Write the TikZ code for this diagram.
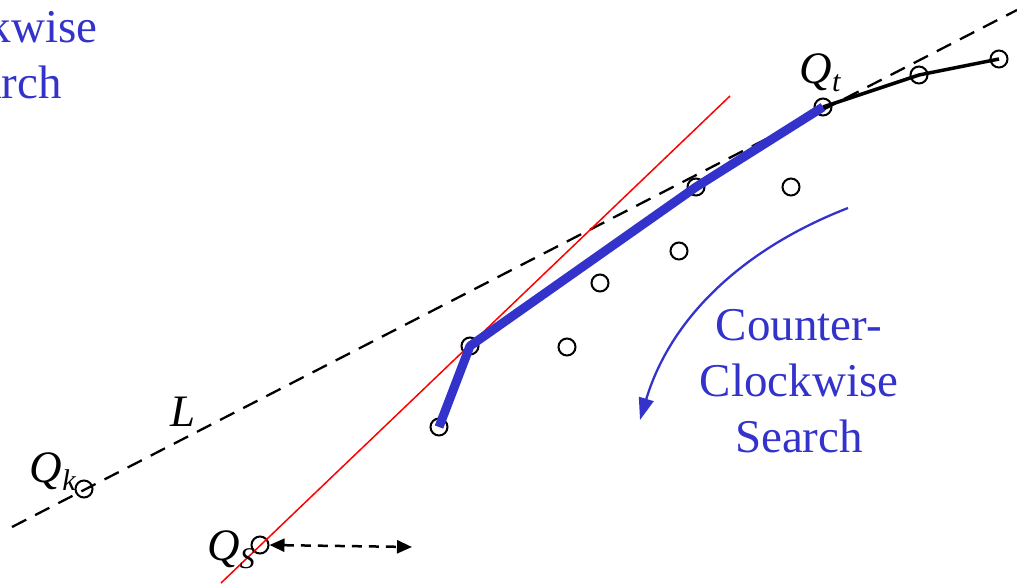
\documentclass[tikz,border=0pt]{standalone}
\usepackage{fontspec}
\setmainfont{Liberation Serif}
\newfontfamily\tnr{Liberation Serif}
\usetikzlibrary{arrows.meta}
\definecolor{sblue}{RGB}{51,51,204}
\tikzset{
  pt/.style={circle,draw=black,line width=2pt,minimum size=17pt,inner sep=0pt,fill=none},
  lbl/.style={font=\tnr\fontsize{45}{48}\selectfont\itshape,inner sep=0pt},
  bluetext/.style={font=\tnr\fontsize{47}{56}\selectfont,text=sblue,align=center,inner sep=0pt},
}
\begin{document}
\begin{tikzpicture}[x=1pt,y=-1pt]
\useasboundingbox (0,0) rectangle (1017,586);
\clip (0,0) rectangle (1017,586);
% points
\node[pt] (qk) at (84,489) {};
\node[pt] (qs) at (260,545) {};
\node[pt] (b0) at (439,427) {};
\node[pt] (b1) at (470,346) {};
\node[pt] (p1) at (567,347) {};
\node[pt] (p2) at (600,283) {};
\node[pt] (p3) at (679,251) {};
\node[pt] (b2) at (696,187) {};
\node[pt] (p4) at (791,187) {};
\node[pt] (qt) at (823,107) {};
\node[pt] (c1) at (919,75) {};
\node[pt] (c2) at (999,59) {};
% line L
\coordinate (l1) at (12,527);
\coordinate (l2) at (1017,10);
\draw[black,line width=2.3pt,dash pattern=on 16pt off 10pt] (l1) -- (l2);
% red line
\coordinate (r1) at (221,583);
\coordinate (r2) at (730,96);
\draw[red,line width=1.5pt] (r1) -- (r2);
% blue hull path
\draw[sblue,line width=9pt,line join=round] (b0.center) -- (b1.center) -- (b2.center) -- (qt.center);
% black path
\draw[black,line width=3.5pt,line join=round] (qt.center) -- (c1.center) -- (c2.center);
% dashed double arrow
\coordinate (da) at (412,547);
\draw[black,line width=2.5pt,dash pattern=on 10pt off 7pt,
  {Triangle[length=15pt,width=13pt]}-{Triangle[length=15pt,width=13pt]}]
  (qs.east) -- (da);
% counter-clockwise arrow
\coordinate (a1) at (848,208);
\coordinate (a2) at (640,420);
\draw[sblue,line width=2.3pt,-{Triangle[length=22pt,width=15pt]}]
  (a1) .. controls (740,250) and (670,320) .. (a2);
% labels
\node[lbl,anchor=base] (lq) at (183,426) {L};
\node[lbl,anchor=base east] (lqk) at (76,482) {Q\raisebox{-8pt}{\fontsize{30}{30}\selectfont k}};
\node[lbl,anchor=base east] (lqs) at (255,560) {Q\raisebox{-8pt}{\fontsize{30}{30}\selectfont S}};
\node[lbl,anchor=base] (lqt) at (820,83) {Q\raisebox{-8pt}{\fontsize{30}{30}\selectfont t}};
\node[bluetext,anchor=north] (ccw) at (799,309) {Counter-\\Clockwise\\Search};
\node[bluetext,anchor=north] (cw) at (-2,10) {Clockwise\\Search};
\end{tikzpicture}
\end{document}
